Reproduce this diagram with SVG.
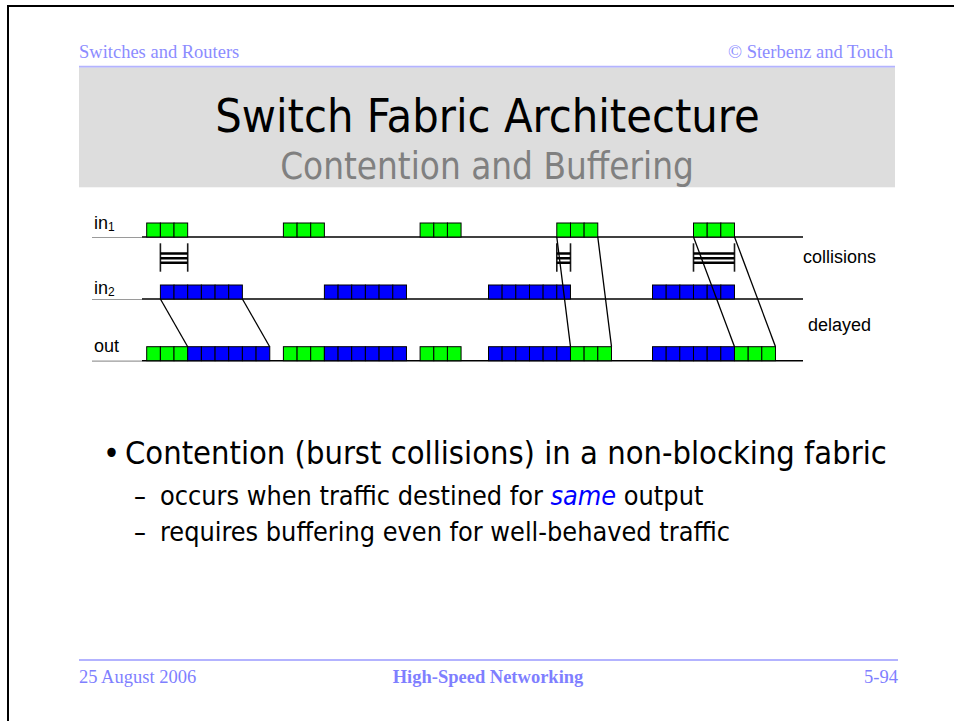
<svg xmlns="http://www.w3.org/2000/svg" xmlns:xlink="http://www.w3.org/1999/xlink" width="954" height="721" viewBox="0 0 954 721">
  <style>
    .hdr { font-family: "Liberation Serif", "Times New Roman", serif; font-size: 18.5px; fill: #8c8cff; }
    .ftr { font-family: "Liberation Serif", "Times New Roman", serif; font-size: 18.5px; fill: #7f7fff; }
    .rule { stroke: #b3b3ff; stroke-width: 2; fill: none; }
    .ttl { font-family: "DejaVu Sans Condensed", "DejaVu Sans", sans-serif; text-anchor: middle; }
    .body { font-family: "DejaVu Sans Condensed", "DejaVu Sans", sans-serif; fill: #000; }
    .lbl { font-family: "Liberation Sans", Arial, sans-serif; font-size: 18px; fill: #000; }
    .track { stroke: #000; stroke-width: 1.4; }
    .lead { stroke: #9a9a9a; stroke-width: 1.2; }
    .wire { stroke: #000; stroke-width: 1.3; fill: none; }
    .tick { stroke: #1a1a1a; stroke-width: 1.6; }
    .bar { stroke: #000; stroke-width: 2.6; }
    .g { fill: #00ff00; stroke: #000; stroke-width: 1; }
    .b { fill: #0000ff; stroke: #000; stroke-width: 1; }
  </style>
  <defs>
    <rect id="cg" class="g" width="13.67" height="14"/>
    <rect id="cb" class="b" width="13.67" height="14"/>
  </defs>

  <rect width="954" height="721" fill="#fff"/>
  <!-- slide frame -->
  <rect x="8" y="6" width="980" height="740" fill="none" stroke="#000" stroke-width="2"/>

  <!-- running header -->
  <g id="header">
    <text class="hdr" x="79" y="58">Switches and Routers</text>
    <text class="hdr" x="893" y="58" text-anchor="end">© Sterbenz and Touch</text>
    <line class="rule" x1="79" y1="66.7" x2="895" y2="66.7"/>
  </g>

  <!-- title band -->
  <g id="title">
    <rect x="79" y="67.7" width="816" height="119.6" fill="#dddddd"/>
    <text class="ttl" x="487.5" y="132" font-size="46.5" fill="#000">Switch Fabric Architecture</text>
    <text class="ttl" x="487" y="179" font-size="36.5" fill="#808080">Contention and Buffering</text>
  </g>

  <!-- time lines -->
  <g id="tracks">
    <line class="lead" x1="92" y1="237.5" x2="142" y2="237.5"/>
    <line class="track" x1="142" y1="237" x2="803" y2="237"/>
    <line class="lead" x1="92" y1="299.5" x2="142" y2="299.5"/>
    <line class="track" x1="142" y1="299" x2="803" y2="299"/>
    <line class="lead" x1="92" y1="361.2" x2="142" y2="361.2"/>
    <line class="track" x1="142" y1="360.7" x2="803" y2="360.7"/>
  </g>

  <g id="labels">
    <text class="lbl" x="94" y="229">in<tspan font-size="12" dy="2">1</tspan></text>
    <text class="lbl" x="94" y="293.5">in<tspan font-size="12" dy="2">2</tspan></text>
    <text class="lbl" x="94" y="352">out</text>
    <text class="lbl" x="803" y="263">collisions</text>
    <text class="lbl" x="808" y="331">delayed</text>
  </g>

  <!-- input 1 bursts -->
  <g id="in1">
    <use xlink:href="#cg" x="146.7" y="223"/><use xlink:href="#cg" x="160.4" y="223"/><use xlink:href="#cg" x="174.0" y="223"/>
    <use xlink:href="#cg" x="283.4" y="223"/><use xlink:href="#cg" x="297.1" y="223"/><use xlink:href="#cg" x="310.7" y="223"/>
    <use xlink:href="#cg" x="420.1" y="223"/><use xlink:href="#cg" x="433.8" y="223"/><use xlink:href="#cg" x="447.4" y="223"/>
    <use xlink:href="#cg" x="556.8" y="223"/><use xlink:href="#cg" x="570.5" y="223"/><use xlink:href="#cg" x="584.1" y="223"/>
    <use xlink:href="#cg" x="693.5" y="223"/><use xlink:href="#cg" x="707.2" y="223"/><use xlink:href="#cg" x="720.8" y="223"/>
  </g>

  <!-- input 2 bursts -->
  <g id="in2">
    <use xlink:href="#cb" x="160.4" y="285"/><use xlink:href="#cb" x="174.0" y="285"/><use xlink:href="#cb" x="187.7" y="285"/>
    <use xlink:href="#cb" x="201.4" y="285"/><use xlink:href="#cb" x="215.1" y="285"/><use xlink:href="#cb" x="228.7" y="285"/>
    <use xlink:href="#cb" x="324.4" y="285"/><use xlink:href="#cb" x="338.1" y="285"/><use xlink:href="#cb" x="351.7" y="285"/>
    <use xlink:href="#cb" x="365.4" y="285"/><use xlink:href="#cb" x="379.1" y="285"/><use xlink:href="#cb" x="392.8" y="285"/>
    <use xlink:href="#cb" x="488.5" y="285"/><use xlink:href="#cb" x="502.1" y="285"/><use xlink:href="#cb" x="515.8" y="285"/>
    <use xlink:href="#cb" x="529.5" y="285"/><use xlink:href="#cb" x="543.1" y="285"/><use xlink:href="#cb" x="556.8" y="285"/>
    <use xlink:href="#cb" x="652.5" y="285"/><use xlink:href="#cb" x="666.2" y="285"/><use xlink:href="#cb" x="679.8" y="285"/>
    <use xlink:href="#cb" x="693.5" y="285"/><use xlink:href="#cb" x="707.2" y="285"/><use xlink:href="#cb" x="720.8" y="285"/>
  </g>

  <!-- output stream -->
  <g id="out">
    <use xlink:href="#cg" x="146.7" y="346.7"/><use xlink:href="#cg" x="160.4" y="346.7"/><use xlink:href="#cg" x="174.0" y="346.7"/>
    <use xlink:href="#cb" x="187.7" y="346.7"/><use xlink:href="#cb" x="201.4" y="346.7"/><use xlink:href="#cb" x="215.1" y="346.7"/>
    <use xlink:href="#cb" x="228.7" y="346.7"/><use xlink:href="#cb" x="242.4" y="346.7"/><use xlink:href="#cb" x="256.1" y="346.7"/>
    <use xlink:href="#cg" x="283.4" y="346.7"/><use xlink:href="#cg" x="297.1" y="346.7"/><use xlink:href="#cg" x="310.7" y="346.7"/>
    <use xlink:href="#cb" x="324.4" y="346.7"/><use xlink:href="#cb" x="338.1" y="346.7"/><use xlink:href="#cb" x="351.7" y="346.7"/>
    <use xlink:href="#cb" x="365.4" y="346.7"/><use xlink:href="#cb" x="379.1" y="346.7"/><use xlink:href="#cb" x="392.8" y="346.7"/>
    <use xlink:href="#cg" x="420.1" y="346.7"/><use xlink:href="#cg" x="433.8" y="346.7"/><use xlink:href="#cg" x="447.4" y="346.7"/>
    <use xlink:href="#cb" x="488.5" y="346.7"/><use xlink:href="#cb" x="502.1" y="346.7"/><use xlink:href="#cb" x="515.8" y="346.7"/>
    <use xlink:href="#cb" x="529.5" y="346.7"/><use xlink:href="#cb" x="543.1" y="346.7"/><use xlink:href="#cb" x="556.8" y="346.7"/>
    <use xlink:href="#cg" x="570.5" y="346.7"/><use xlink:href="#cg" x="584.1" y="346.7"/><use xlink:href="#cg" x="597.8" y="346.7"/>
    <use xlink:href="#cb" x="652.5" y="346.7"/><use xlink:href="#cb" x="666.2" y="346.7"/><use xlink:href="#cb" x="679.8" y="346.7"/>
    <use xlink:href="#cb" x="693.5" y="346.7"/><use xlink:href="#cb" x="707.2" y="346.7"/><use xlink:href="#cb" x="720.8" y="346.7"/>
    <use xlink:href="#cg" x="734.5" y="346.7"/><use xlink:href="#cg" x="748.2" y="346.7"/><use xlink:href="#cg" x="761.8" y="346.7"/>
  </g>

  <!-- collision spans -->
  <g id="collisions">
    <line class="tick" x1="160.4" y1="243.3" x2="160.4" y2="271.7"/>
    <line class="tick" x1="187.7" y1="243.3" x2="187.7" y2="271.7"/>
    <path class="bar" d="M160.4 253.5H187.7M160.4 258.2H187.7M160.4 262.8H187.7"/>
    <line class="tick" x1="556.8" y1="243.3" x2="556.8" y2="271.7"/>
    <line class="tick" x1="570.5" y1="243.3" x2="570.5" y2="271.7"/>
    <path class="bar" d="M556.8 253.5H570.5M556.8 258.2H570.5M556.8 262.8H570.5"/>
    <line class="tick" x1="693.5" y1="243.3" x2="693.5" y2="271.7"/>
    <line class="tick" x1="734.5" y1="243.3" x2="734.5" y2="271.7"/>
    <path class="bar" d="M693.5 253.5H734.5M693.5 258.2H734.5M693.5 262.8H734.5"/>
  </g>

  <!-- delay connectors from inputs to output -->
  <g id="connectors">
    <line class="wire" x1="160.4" y1="299" x2="187.7" y2="346.7"/>
    <line class="wire" x1="242.4" y1="299" x2="269.7" y2="346.7"/>
    <line class="wire" x1="556.8" y1="237" x2="570.5" y2="346.7"/>
    <line class="wire" x1="597.8" y1="237" x2="611.5" y2="346.7"/>
    <line class="wire" x1="693.5" y1="237" x2="734.5" y2="346.7"/>
    <line class="wire" x1="734.5" y1="237" x2="775.5" y2="346.7"/>
  </g>

  <!-- bullet text -->
  <g id="bullets">
    <text class="body" x="103" y="464" font-size="32">•</text>
    <text class="body" x="125" y="464" font-size="32.4">Contention (burst collisions) in a non-blocking fabric</text>
    <text class="body" x="134" y="505" font-size="26.5">–</text>
    <text class="body" x="160" y="505" font-size="26.8">occurs when traffic destined for <tspan fill="#0000ff" font-style="italic">same</tspan> output</text>
    <text class="body" x="134" y="541" font-size="26.5">–</text>
    <text class="body" x="160" y="541" font-size="26.8">requires buffering even for well-behaved traffic</text>
  </g>

  <!-- running footer -->
  <g id="footer">
    <line class="rule" x1="79" y1="660" x2="898" y2="660"/>
    <text class="ftr" x="79" y="683">25 August 2006</text>
    <text class="ftr" x="488" y="683" text-anchor="middle" font-weight="bold">High-Speed Networking</text>
    <text class="ftr" x="898" y="683" text-anchor="end">5-94</text>
  </g>
</svg>
